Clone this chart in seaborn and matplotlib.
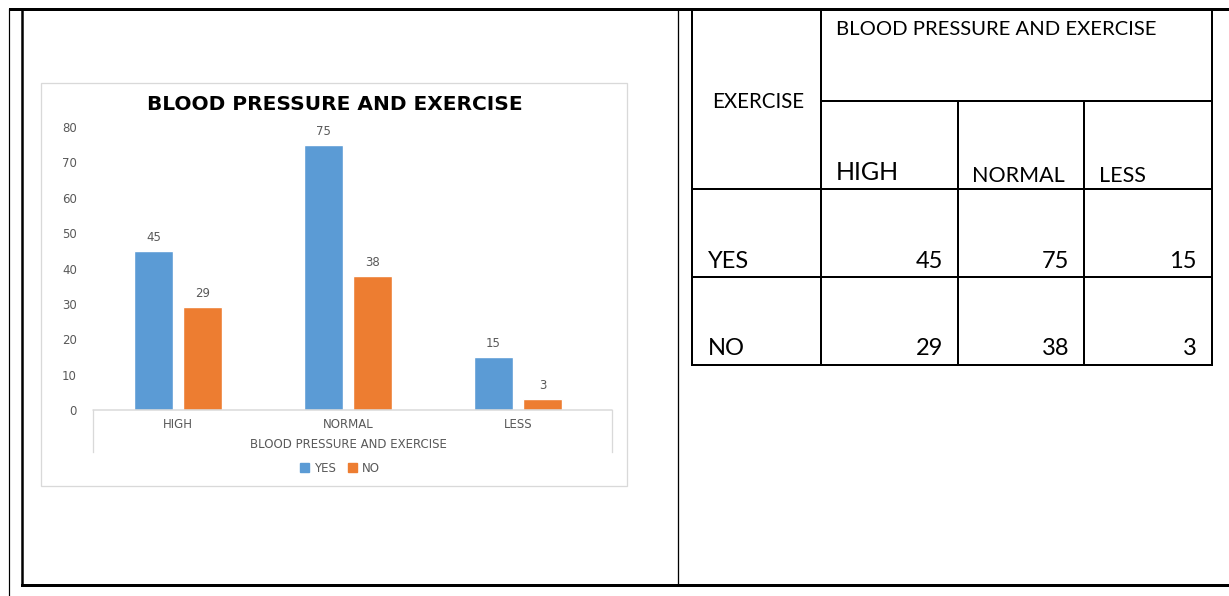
import matplotlib
matplotlib.use("Agg")
import matplotlib.pyplot as plt
import seaborn as sns
import pandas as pd
from matplotlib.lines import Line2D
from matplotlib.patches import Rectangle

# ---------------- data ----------------
categories = ["HIGH", "NORMAL", "LESS"]
yes_values = [45, 75, 15]
no_values = [29, 38, 3]
series_names = ["YES", "NO"]
chart_title = "BLOOD PRESSURE AND EXERCISE"
x_label = "BLOOD PRESSURE AND EXERCISE"
y_ticks = [0, 10, 20, 30, 40, 50, 60, 70, 80]
table_row_header = "EXERCISE"
table_col_header = "BLOOD PRESSURE AND EXERCISE"

BLUE = "#5B9BD5"
ORANGE = "#ED7D31"
GRAY = "#595959"
LIGHT = "#D9D9D9"

df = pd.DataFrame({
    "category": categories * 2,
    "exercise": [series_names[0]] * len(categories) + [series_names[1]] * len(categories),
    "count": yes_values + no_values,
})

sns.set_theme(style="white")
plt.rcParams["font.family"] = ["DejaVu Sans"]

W, H = 1229, 596
fig = plt.figure(figsize=(W / 100, H / 100), dpi=100)

# overlay axes in pixel coordinates (document frame + table)
ov = fig.add_axes([0, 0, 1, 1], zorder=0)
ov.set_xlim(0, W)
ov.set_ylim(H, 0)
ov.axis("off")

def px(lw):
    return lw * 72 / 100

def line(x0, y0, x1, y1, lw=1.0, color="black"):
    ov.add_line(Line2D([x0, x1], [y0, y1], lw=px(lw), color=color, solid_capstyle="projecting"))

# document frame
line(10, 9, W, 9, 3)
line(9, 9, 9, H, 1.2)
line(22, 9, 22, 585, 2.5)
line(22, 585, W, 585, 3)
line(678, 9, 678, 585, 1.3)

# chart frame
ov.add_patch(Rectangle((41, 83), 586, 403, fill=False, edgecolor=LIGHT, lw=px(1.3)))

# ---------------- chart ----------------
ax_left, ax_right, ax_bottom, ax_top = 93, 612, 410, 127
ax = fig.add_axes([ax_left / W, (H - ax_bottom) / H, (ax_right - ax_left) / W, (ax_bottom - ax_top) / H], zorder=2)
ax.patch.set_alpha(0)
sns.barplot(data=df, x="category", y="count", hue="exercise", order=categories,
            hue_order=series_names, palette={"YES": BLUE, "NO": ORANGE},
            saturation=1, width=0.576, gap=0.22, ax=ax, legend=False)
ax.set_xlim(-0.5, 2.553)
ax.set_ylim(0, 80)
ax.set_yticks(y_ticks)
for s in ax.spines.values():
    s.set_visible(False)
ax.axhline(0, color=LIGHT, lw=px(1.5), clip_on=False, zorder=3)
ax.tick_params(axis="y", length=0, pad=11.5, labelsize=8.5, labelcolor=GRAY)
ax.tick_params(axis="x", length=0, pad=5.5, labelsize=8.5, labelcolor=GRAY)
ax.set_xlabel("")
ax.set_ylabel("")
for cont in ax.containers:
    ax.bar_label(cont, padding=5, fontsize=8.5, color=GRAY)

# category axis box lines
line(93, 410, 93, 452, 1.3, LIGHT)
line(612, 410, 612, 452, 1.3, LIGHT)

ov.text(335, 104, chart_title, ha="center", va="center", fontsize=14.5,
        fontweight="bold", color="black")
ov.text(348, 444, x_label, ha="center", va="center", fontsize=8.5, color=GRAY)

handles = [Rectangle((0, 0), 1, 1, color=BLUE), Rectangle((0, 0), 1, 1, color=ORANGE)]
fig.legend(handles, series_names, loc="center", bbox_to_anchor=(340 / W, (H - 468) / H),
           ncol=2, frameon=False, fontsize=8.5, labelcolor=GRAY, handlelength=0.8,
           handleheight=0.7, handletextpad=0.4, columnspacing=1.0)

# ---------------- table ----------------
cols = [692, 821, 958, 1084, 1212]
rows = [9, 101, 189, 277, 365]
tf = ["Lato", "DejaVu Sans"]
line(cols[0], rows[0], cols[-1], rows[0], 2)
line(cols[0], rows[-1], cols[-1], rows[-1], 2)
line(cols[0], rows[0], cols[0], rows[-1], 2)
line(cols[-1], rows[0], cols[-1], rows[-1], 2)
line(cols[1], rows[0], cols[1], rows[-1], 2)
line(cols[1], rows[1], cols[-1], rows[1], 2)
line(cols[0], rows[2], cols[-1], rows[2], 2)
line(cols[0], rows[3], cols[-1], rows[3], 2)
line(cols[2], rows[1], cols[2], rows[-1], 2)
line(cols[3], rows[1], cols[3], rows[-1], 2)

ov.text(836, 35, table_col_header, ha="left", va="baseline", fontsize=14.6, family=tf, color="black")
ov.text(712, 108, table_row_header, ha="left", va="baseline", fontsize=14.8, family=tf, color="black")
head_sizes = [18, 15.5, 15.5]
head_base = [180, 182, 182]
head_left = [836, 972, 1099]
for i, c in enumerate(categories):
    ov.text(head_left[i], head_base[i], c, ha="left", va="baseline", fontsize=head_sizes[i], family=tf, color="black")
row_base = [268, 355]
for r, (name, vals) in enumerate(zip(series_names, [yes_values, no_values])):
    ov.text(708, row_base[r], name, ha="left", va="baseline", fontsize=17, family=tf, color="black")
    for j, v in enumerate(vals):
        ov.text(cols[j + 2] - 15, row_base[r], str(v), ha="right", va="baseline", fontsize=17, family=tf, color="black")

fig.savefig("out.png", dpi=100)
